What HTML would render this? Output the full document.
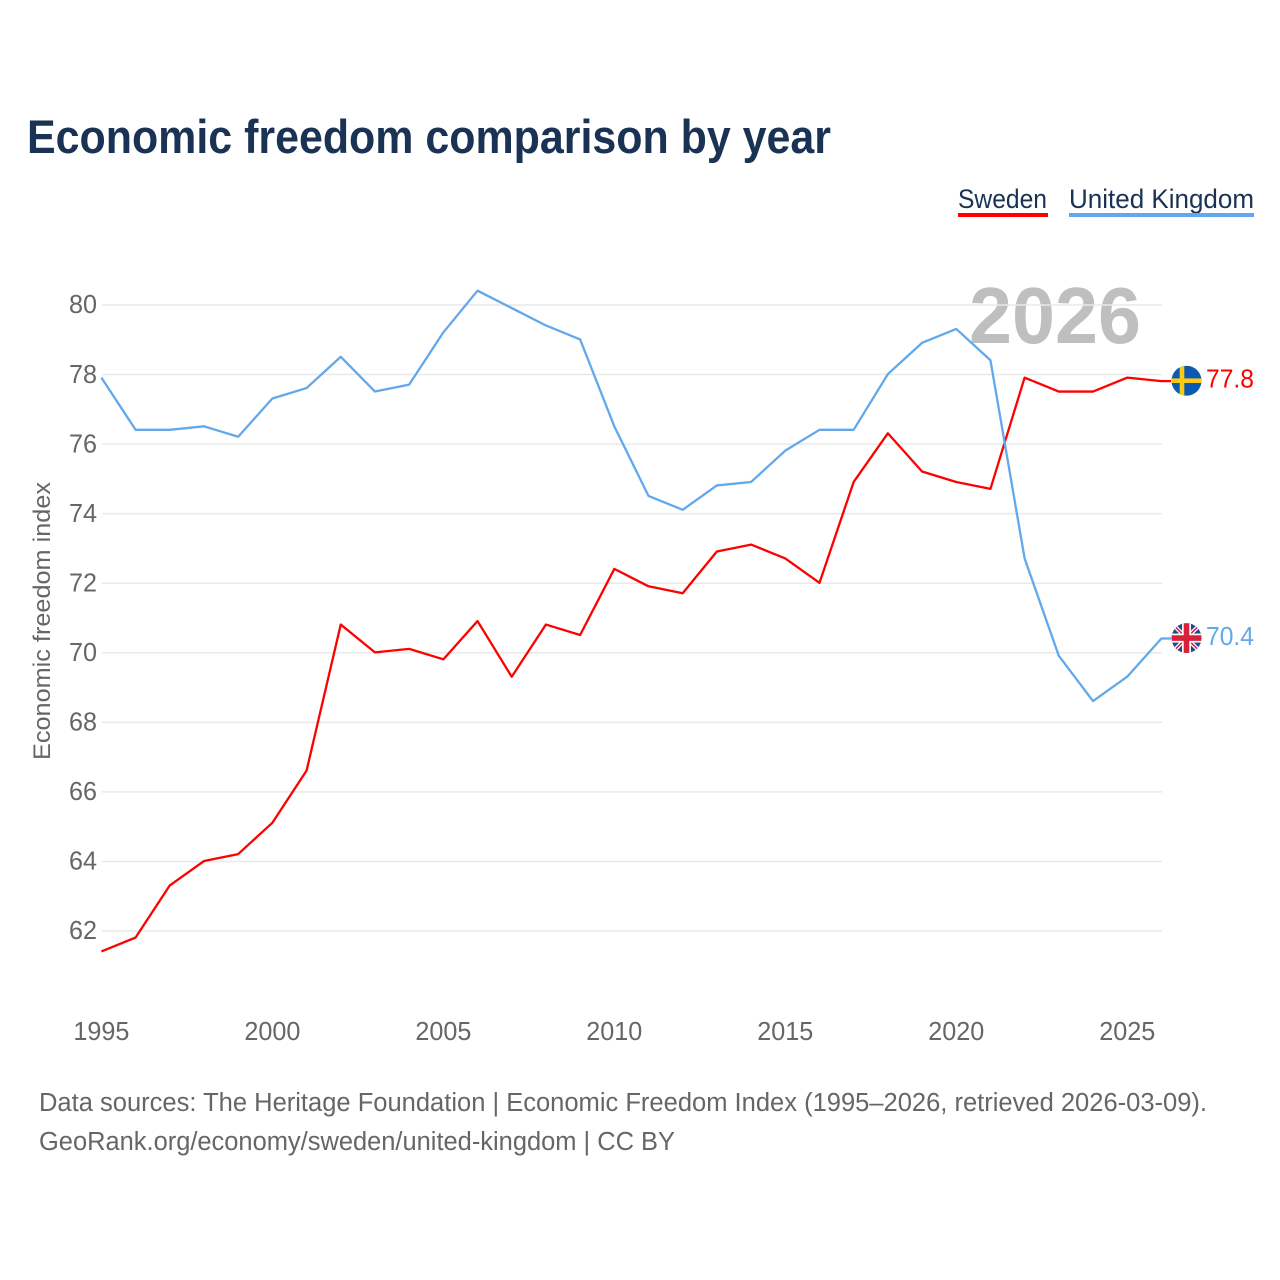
<!DOCTYPE html>
<html lang="en">
<head>
<meta charset="utf-8">
<title>Economic freedom comparison by year</title>
<style>
html,body{margin:0;padding:0;background:#fff;}
svg{display:block;font-family:"Liberation Sans",sans-serif;}
</style>
</head>
<body>
<svg id="chart" width="1280" height="1280" viewBox="0 0 1280 1280" xmlns="http://www.w3.org/2000/svg">
  <defs>
    <clipPath id="flag-clip"><circle cx="0" cy="0" r="15"></circle></clipPath>
  </defs>
  <rect x="0" y="0" width="1280" height="1280" fill="#ffffff"></rect>
  <text x="27" y="153" font-size="47" font-weight="700" fill="#1a3253" textLength="804" lengthAdjust="spacingAndGlyphs">Economic freedom comparison by year</text>

  <g>
    <text x="958" y="208" font-size="27" fill="#1a3253" textLength="89" lengthAdjust="spacingAndGlyphs">Sweden</text>
    <rect x="958" y="213" width="90" height="4" fill="#ff0000"></rect>
  </g>
  <g>
    <text x="1069" y="208" font-size="27" fill="#1a3253" textLength="185" lengthAdjust="spacingAndGlyphs">United Kingdom</text>
    <rect x="1069" y="213" width="185" height="4" fill="#62a8ec"></rect>
  </g>

  <text x="969" y="343" font-size="80" font-weight="700" fill="#000000" fill-opacity="0.25" textLength="172" lengthAdjust="spacingAndGlyphs">2026</text>
  <g id="grid"></g>
  <g id="y-axis"></g>
  <g id="x-axis"></g>
  <text transform="translate(50,760) rotate(-90)" x="0" y="0" font-size="24.5" fill="#666666" textLength="278" lengthAdjust="spacingAndGlyphs">Economic freedom index</text>
  <g id="series"></g>
  <g id="end-labels"></g>

  <text x="39" y="1111" font-size="25.5" fill="#666666" textLength="1168" lengthAdjust="spacingAndGlyphs">Data sources: The Heritage Foundation | Economic Freedom Index (1995–2026, retrieved 2026-03-09).</text>
  <text x="39" y="1150" font-size="25.5" fill="#666666" textLength="636" lengthAdjust="spacingAndGlyphs">GeoRank.org/economy/sweden/united-kingdom | CC BY</text>
</svg>

<script>
const years = [1995,1996,1997,1998,1999,2000,2001,2002,2003,2004,2005,2006,2007,2008,2009,2010,2011,2012,2013,2014,2015,2016,2017,2018,2019,2020,2021,2022,2023,2024,2025,2026];
const swedenValues = [61.4,61.8,63.3,64.0,64.2,65.1,66.6,70.8,70.0,70.1,69.8,70.9,69.3,70.8,70.5,72.4,71.9,71.7,72.9,73.1,72.7,72.0,74.9,76.3,75.2,74.9,74.7,77.9,77.5,77.5,77.9,77.8];
const ukValues = [77.9,76.4,76.4,76.5,76.2,77.3,77.6,78.5,77.5,77.7,79.2,80.4,79.9,79.4,79.0,76.5,74.5,74.1,74.8,74.9,75.8,76.4,76.4,78.0,78.9,79.3,78.4,72.7,69.9,68.6,69.3,70.4];
const yTicks = [62,64,66,68,70,72,74,76,78,80];
const xTicks = [1995,2000,2005,2010,2015,2020,2025];

const NS = 'http://www.w3.org/2000/svg';
const x = function (year) { return 101.4 + (year - 1995) * (1161.4 - 101.4) / 31; };
const y = function (value) { return 931 - (value - 62) * (931 - 305) / 18; };

function make(parent, tag, attrs, text) {
  const el = document.createElementNS(NS, tag);
  for (const k in attrs) el.setAttribute(k, attrs[k]);
  if (text !== undefined) el.textContent = text;
  parent.appendChild(el);
  return el;
}

const grid = document.getElementById('grid');
const yAxis = document.getElementById('y-axis');
const xAxis = document.getElementById('x-axis');
const seriesGroup = document.getElementById('series');
const endLabels = document.getElementById('end-labels');

yTicks.forEach(function (t) {
  const line = make(grid, 'line', { x1: 102, x2: 1162, y1: y(t), y2: y(t), stroke: '#e9e9e9', 'stroke-width': 1.5 });
  
  
  const label = make(yAxis, 'text', { x: 97, y: y(t) + 8.2, 'font-size': 25.5, fill: '#666666', 'text-anchor': 'end', textLength: 28, lengthAdjust: 'spacingAndGlyphs' }, String(t));
  
  
});

xTicks.forEach(function (t) {
  const label = make(xAxis, 'text', { x: x(t), y: 1040, 'font-size': 25.5, fill: '#666666', 'text-anchor': 'middle', textLength: 56, lengthAdjust: 'spacingAndGlyphs' }, String(t));
  
  
});

function drawSeries(values, color, name) {
  const pts = values.map(function (v, i) { return x(years[i]) + ',' + (y(v) - 0.4); });
  const last = values[values.length - 1];
  pts.push('1171,' + (y(last) - 0.4));
  const line = make(seriesGroup, 'polyline', { points: pts.join(' '), fill: 'none', stroke: color, 'stroke-width': 2.3, 'stroke-linejoin': 'round' });
  
  
}
drawSeries(swedenValues, '#ff0000', 'sweden');
drawSeries(ukValues, '#62a8ec', 'united-kingdom');

function flagGroup(name, value) {
  const g = make(endLabels, 'g', { transform: 'translate(1186.5,' + (y(value) - 0.8) + ')' });
  
  
  return make(g, 'g', { 'clip-path': 'url(#flag-clip)' });
}

const swedenLast = swedenValues[swedenValues.length - 1];
const se = flagGroup('sweden', swedenLast);
make(se, 'rect', { x: -15, y: -15, width: 30, height: 30, fill: '#0b5ab0' });
make(se, 'rect', { x: -6.8, y: -15, width: 4.6, height: 30, fill: '#fcc916' });
make(se, 'rect', { x: -15, y: -2.3, width: 30, height: 4.6, fill: '#fcc916' });

const ukLast = ukValues[ukValues.length - 1];
const uk = flagGroup('united-kingdom', ukLast);
make(uk, 'rect', { x: -15, y: -15, width: 30, height: 30, fill: '#1f4a94' });
make(uk, 'path', { d: 'M-15,-15L15,15M15,-15L-15,15', stroke: '#ffffff', 'stroke-width': 4, fill: 'none' });
make(uk, 'path', { d: 'M-15,-15L15,15M15,-15L-15,15', stroke: '#d8213a', 'stroke-width': 1.5, fill: 'none' });
make(uk, 'rect', { x: -4.5, y: -15, width: 9, height: 30, fill: '#ffffff' });
make(uk, 'rect', { x: -15, y: -4.5, width: 30, height: 9, fill: '#ffffff' });
make(uk, 'rect', { x: -2.8, y: -15, width: 5.6, height: 30, fill: '#d8213a' });
make(uk, 'rect', { x: -15, y: -2.8, width: 30, height: 5.6, fill: '#d8213a' });

const seLabel = make(endLabels, 'text', { x: 1206, y: y(swedenLast) + 6.2, 'font-size': 25.5, fill: '#ff0000', textLength: 48, lengthAdjust: 'spacingAndGlyphs' }, swedenLast.toFixed(1));


const ukLabel = make(endLabels, 'text', { x: 1206, y: y(ukLast) + 6, 'font-size': 25.5, fill: '#62a8ec', textLength: 48, lengthAdjust: 'spacingAndGlyphs' }, ukLast.toFixed(1));


</script>
</body>
</html>
